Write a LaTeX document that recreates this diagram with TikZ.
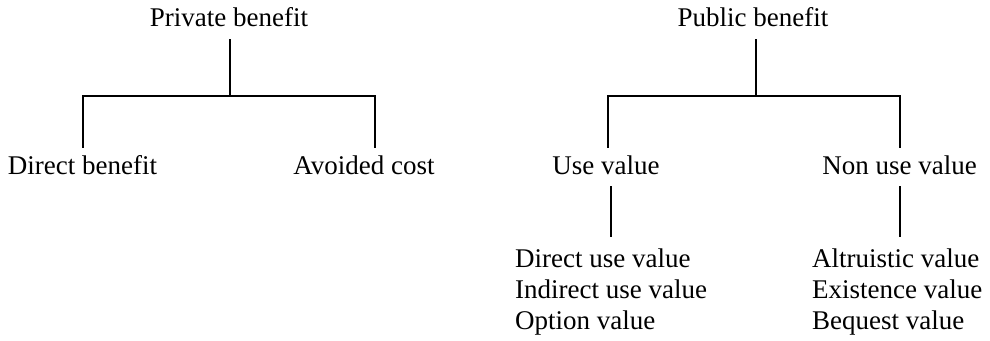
\documentclass[tikz,border=0pt]{standalone}
\usepackage{fontspec}
\setmainfont{Liberation Serif}
\usetikzlibrary{calc}
\begin{document}
\begin{tikzpicture}[x=1pt,y=-1pt,
  lbl/.style={font=\fontsize{27}{31}\selectfont, text height=20pt, text depth=6pt,
              inner xsep=0pt, inner ysep=6pt},
  item/.style={lbl, anchor=base west},
  link/.style={line width=2pt}]
\useasboundingbox (0,0) rectangle (990,340);
\fill[white] (0,0) rectangle (990,340);

% private side
\node[lbl, anchor=base] (pv) at (229,27) {Private benefit};
\node[lbl, anchor=base] (db) at (82.5,174) {Direct benefit};
\node[lbl, anchor=base] (ac) at (364,174) {Avoided cost};

% public side
\node[lbl, anchor=base] (pub) at (753,27) {Public benefit};
\node[lbl, anchor=base] (uv)  at (606,174) {Use value};
\node[lbl, anchor=base] (nuv) at (899.5,174) {Non use value};

\node[item] (duv) at (515,267) {Direct use value};
\node[item] (iuv) at (515,298) {Indirect use value};
\node[item] (ov)  at (515,329) {Option value};
\node[item] (alt) at (812,267) {Altruistic value};
\node[item] (ex)  at (812,298) {Existence value};
\node[item] (beq) at (812,329) {Bequest value};

% branching connectors
\coordinate (bar) at (0,96);
\coordinate (pvs) at ($(pv.south)+(1,0)$);
\coordinate (pubs) at ($(pub.south)+(3,0)$);
\coordinate (acl) at ($(ac.north)+(11,0)$);
\coordinate (uvl) at ($(uv.north)+(2,0)$);

\draw[link] (pvs) -- (pvs |- bar);
\draw[link] (db.north) |- (bar -| acl) -- (acl);

\draw[link] (pubs) -- (pubs |- bar);
\draw[link] (uvl) |- (bar -| nuv.north) -- (nuv.north);

\draw[link] ($(uv.south)+(5,0)$) -- ($(uv.south |- duv.north)+(5,-4)$);
\draw[link] (nuv.south) -- ($(nuv.south |- alt.north)+(0,-4)$);
\end{tikzpicture}
\end{document}
